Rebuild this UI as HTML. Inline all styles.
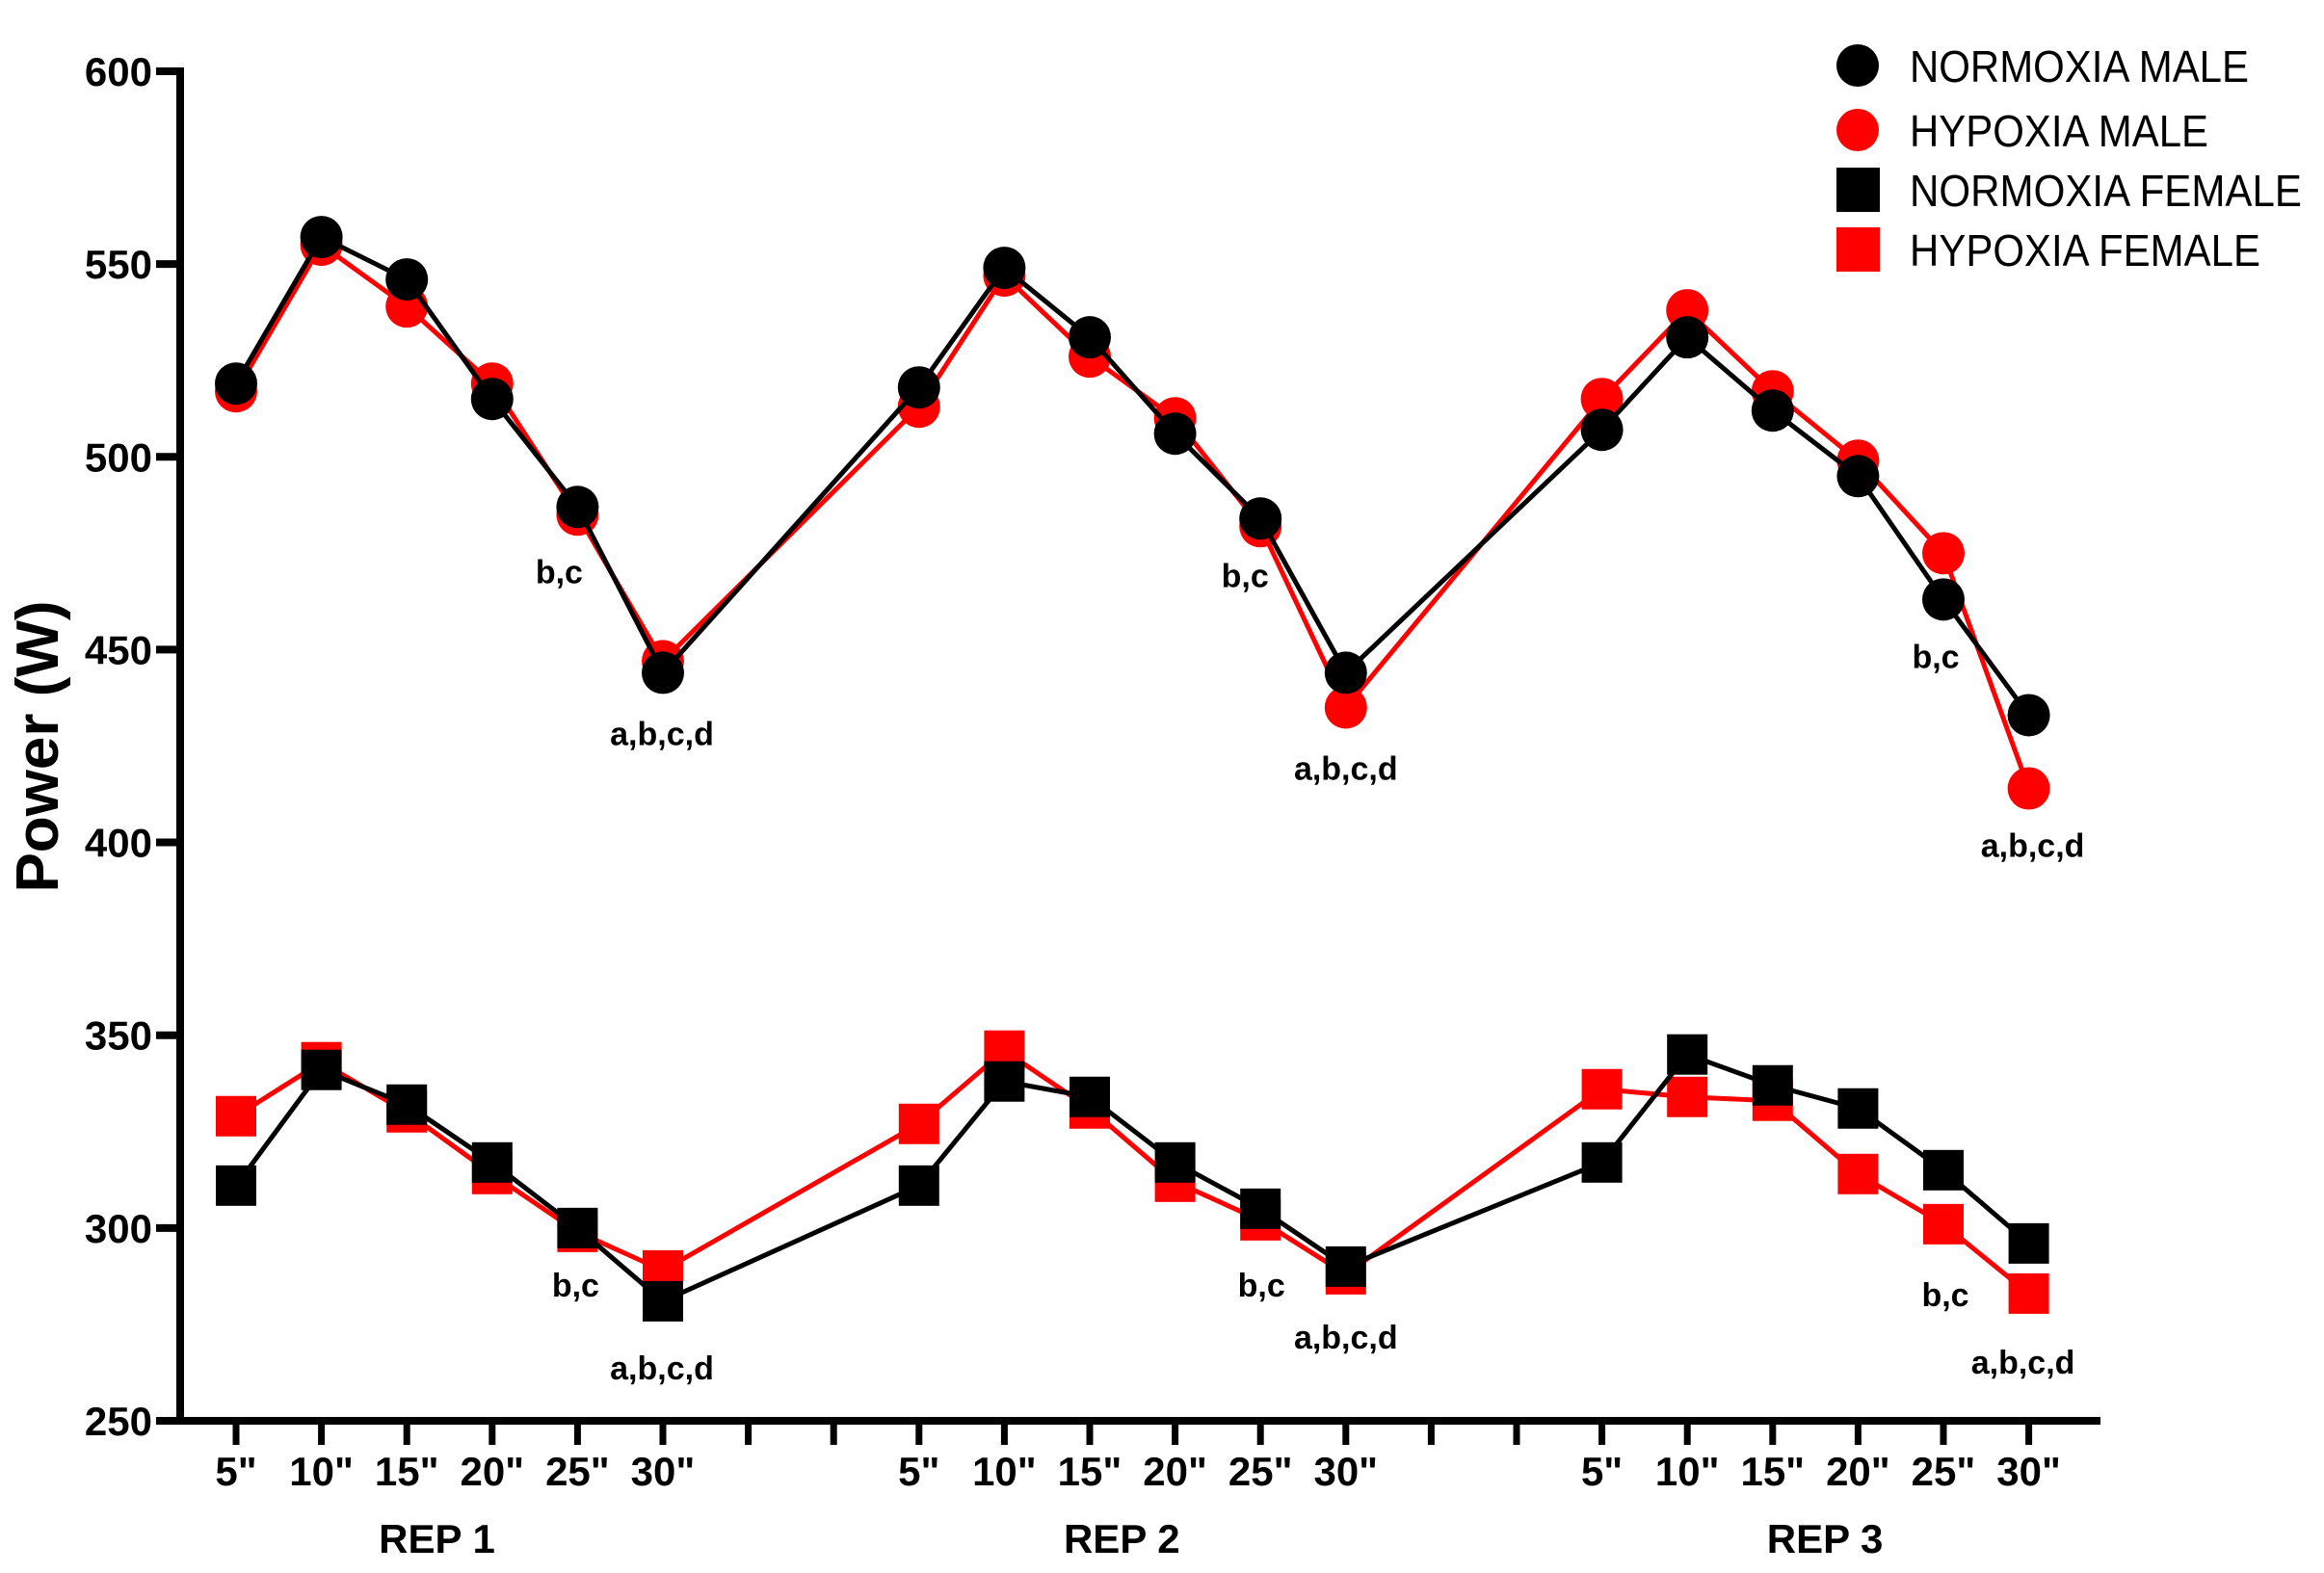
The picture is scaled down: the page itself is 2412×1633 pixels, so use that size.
<!DOCTYPE html>
<html><head><meta charset="utf-8"><style>
html,body{margin:0;padding:0;background:#fff;}
svg{display:block;font-family:"Liberation Sans",Arial,sans-serif;}
</style></head><body>
<svg id="chart" width="2412" height="1633" viewBox="0 0 2412 1633" xmlns="http://www.w3.org/2000/svg">
<g id="axes"></g>
<g id="series"></g>
<g id="annots"></g>
<g id="legend"></g>
</svg>
<script>
const categories = ['5"','10"','15"','20"','25"','30"'];
const repLabels = ['REP 1','REP 2','REP 3'];
const yTicks = [250,300,350,400,450,500,550,600];
const normoxiaMale = [519,557,546,515,487,444, 518,549,531,506,484,444, 507,531,512,495,463,433];
const hypoxiaMale = [517,555,539,519,485,447, 513,547,526,510,482,435, 515,538,517,499,475,414];
const normoxiaFemale = [311,341,332,317,300,281, 311,338,334,317,305,290, 317,345,337,331,315,296];
const hypoxiaFemale = [329,343,330,314,299,289, 327,346,331,312,302,288, 336,334,333,314,301,283];
const annotTexts = ['b,c','a,b,c,d','b,c','a,b,c,d','b,c','a,b,c,d','b,c','a,b,c,d','b,c','a,b,c,d','b,c','a,b,c,d'];
const annotSlots = [4,5,12,13,20,21,4,5,12,13,20,21];
const annotValues = [470,428,469,419,448,399, 285,263.5,285,271.5,282.5,265];
// layout-only horizontal nudges (px)
const annotDx = [-19,-1,-16,0,-8,4, -2,-1,1,0,2,-6];
const repDx = [-13,-11,10];
const legendLen = [352,310,407,364];

const NS='http://www.w3.org/2000/svg';
const X0=245, DX=88.6, Y250=1475, PXW=4.003;
function xs(slot){return X0+DX*slot;}
function ys(v){return Y250-(v-250)*PXW;}
function slotOf(i){return Math.floor(i/6)*8+(i%6);}
function mk(tag,attrs,parent){const e=document.createElementNS(NS,tag);for(const k in attrs)e.setAttribute(k,attrs[k]);parent.appendChild(e);return e;}

const axes=document.getElementById('axes');
let yl=mk('line',{x1:187,y1:70,x2:187,y2:1479,stroke:'#000','stroke-width':8},axes);


yTicks.forEach(t=>{
  const y=ys(t);
  const tk=mk('line',{x1:162,y1:y,x2:187,y2:y,stroke:'#000','stroke-width':8},axes);
  
  
  const lb=mk('text',{x:158,y:y+15,'text-anchor':'end','font-size':42,'font-weight':'bold'},axes);
  lb.textContent=t;
  
  
});
let xl=mk('line',{x1:183,y1:1475,x2:2180,y2:1475,stroke:'#000','stroke-width':8},axes);


for(let s=0;s<22;s++){
  const x=xs(s);
  const tk=mk('line',{x1:x,y1:1475,x2:x,y2:1500,stroke:'#000','stroke-width':7},axes);
  
  
  const r=s%8;
  if(r<6){
    const lb=mk('text',{x:x,y:1542,'text-anchor':'middle','font-size':42,'font-weight':'bold'},axes);
    lb.textContent=categories[r];
    
    
  }
}
repLabels.forEach((r,k)=>{
  const cx=(xs(k*8)+xs(k*8+5))/2+repDx[k];
  const lb=mk('text',{x:cx,y:1612,'text-anchor':'middle','font-size':42,'font-weight':'bold'},axes);
  lb.textContent=r;
  
  
});
let yt=mk('text',{x:0,y:0,transform:'translate(60,775) rotate(-90)','text-anchor':'middle','font-size':62,'font-weight':'bold'},axes);
yt.textContent='Power (W)';



const ser=document.getElementById('series');
function drawSeries(vals,color,shape,name){
  const g=mk('g',{},ser);
  
  
  for(let rep=0;rep<3;rep++){
    const pts=[];
    for(let j=0;j<6;j++){const i=rep*6+j;pts.push(xs(slotOf(i))+','+ys(vals[i]));}
    if(rep<2){const i=rep*6+6;pts.push(xs(slotOf(i))+','+ys(vals[i]));}
    const pl=mk('polyline',{points:pts.join(' '),fill:'none',stroke:color,'stroke-width':5,'stroke-linejoin':'round'},g);
    
    
  }
  vals.forEach((v,i)=>{
    const x=xs(slotOf(i)),y=ys(v);
    let m;
    if(shape==='c') m=mk('circle',{cx:x,cy:y,r:22,fill:color},g);
    else m=mk('rect',{x:x-21,y:y-21,width:42,height:42,fill:color},g);
    
    
  });
}
drawSeries(hypoxiaMale,'#ff0000','c','hypoxia-male');
drawSeries(normoxiaMale,'#000','c','normoxia-male');
drawSeries(hypoxiaFemale,'#ff0000','s','hypoxia-female');
drawSeries(normoxiaFemale,'#000','s','normoxia-female');

const an=document.getElementById('annots');
annotTexts.forEach((t,k)=>{
  const x=xs(annotSlots[k])+annotDx[k];
  const a=mk('text',{x:x,y:ys(annotValues[k]),'text-anchor':'middle','dominant-baseline':'central','font-size':34,'font-weight':'bold'},an);
  a.textContent=t;
  
  
});

const lg=document.getElementById('legend');
const legendNames=['NORMOXIA MALE','HYPOXIA MALE','NORMOXIA FEMALE','HYPOXIA FEMALE'];
const legendColors=['#000','#ff0000','#000','#ff0000'];
const legendY=[68,135,197,259];
legendNames.forEach((n,k)=>{
  const g=mk('g',{},lg);
  
  
  let m;
  if(k<2) m=mk('circle',{cx:1928,cy:legendY[k],r:22,fill:legendColors[k]},g);
  else m=mk('rect',{x:1906,y:legendY[k]-23,width:45,height:46,fill:legendColors[k]},g);
  
  
  const t=mk('text',{x:1982,y:legendY[k]+17,'font-size':46,textLength:legendLen[k],lengthAdjust:'spacingAndGlyphs'},g);
  t.textContent=n;
  
  
});
</script>
</body></html>
